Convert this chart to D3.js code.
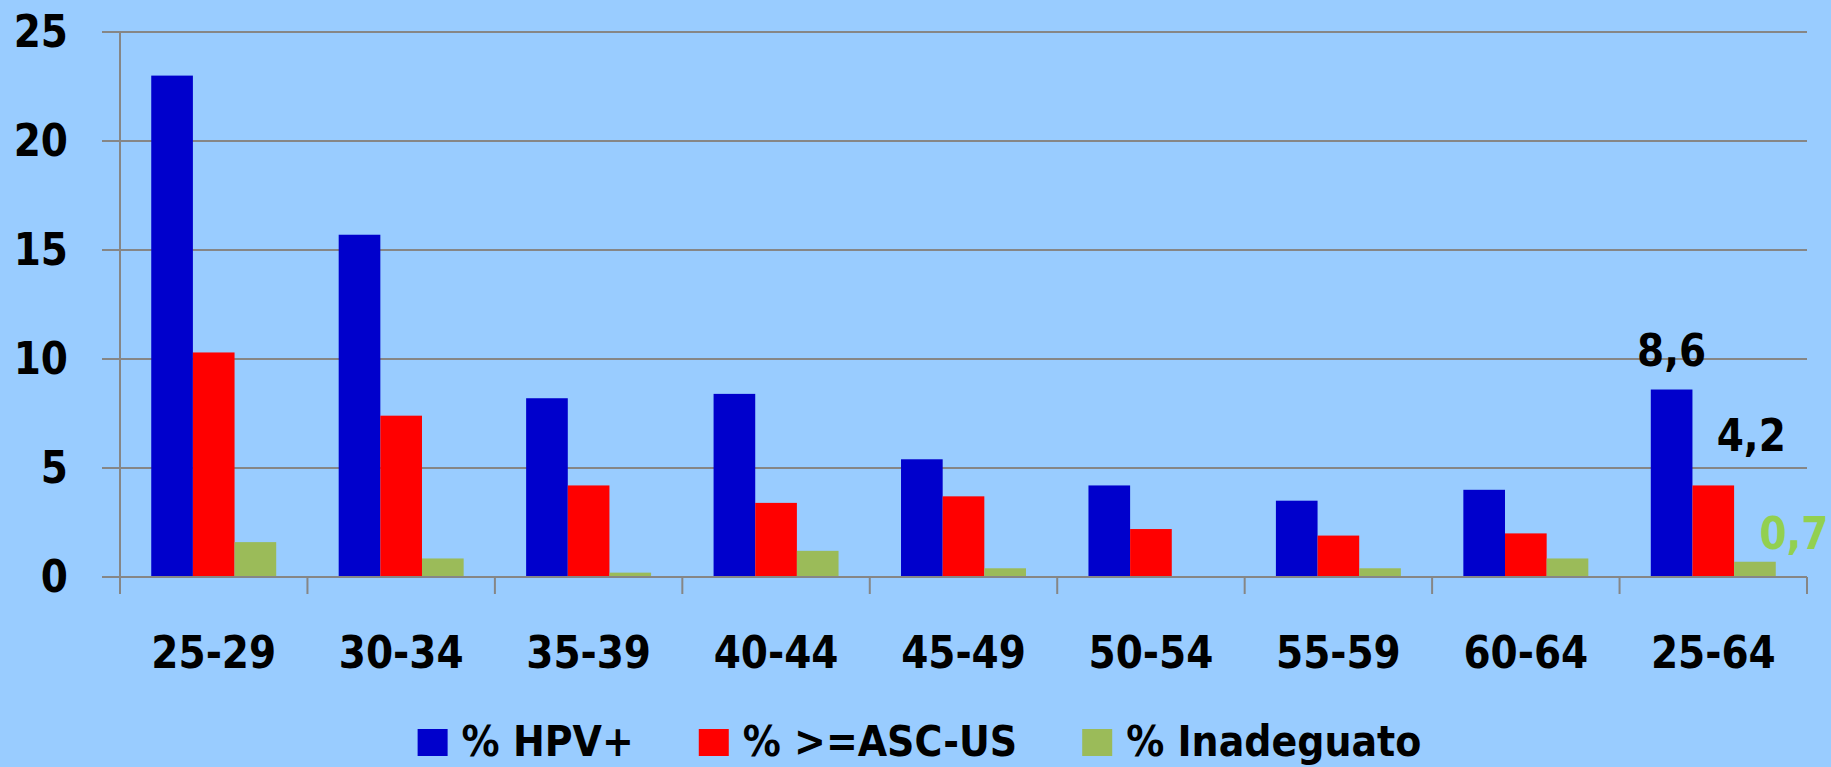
<!DOCTYPE html>
<html>
<head>
<meta charset="utf-8">
<script src="https://cdn.jsdelivr.net/npm/d3@7/dist/d3.min.js"></script>
<style>
  html, body { margin: 0; padding: 0; background: #99CCFF; }
  svg { display: block; }
  text { font-family: "DejaVu Sans", Verdana, sans-serif; font-weight: bold; }
</style>
</head>
<body>
<svg id="chart" width="1831" height="767"></svg>
<script>
// Age groups and the three percentages per group
const categories = ["25-29", "30-34", "35-39", "40-44", "45-49", "50-54", "55-59", "60-64", "25-64"];
const hpvPos   = [23.0, 15.7, 8.2, 8.4, 5.4, 4.2, 3.5, 4.0, 8.6];
const ascus    = [10.3, 7.4, 4.2, 3.4, 3.7, 2.2, 1.9, 2.0, 4.2];
const inadeg   = [1.6, 0.85, 0.2, 1.2, 0.4, 0.0, 0.4, 0.85, 0.7];
const seriesNames = ["% HPV+", "% >=ASC-US", "% Inadeguato"];
const yTicks = [0, 5, 10, 15, 20, 25];

const seriesValues = [hpvPos, ascus, inadeg];
const colors = ["#0000CC", "#FF0000", "#9BBB59"];

const W = 1831, H = 767;
const margin = { left: 120, right: 24, top: 32, bottom: 190 };
const svg = d3.select("#chart");
svg.append("rect").attr("width", W).attr("height", H).attr("fill", "#99CCFF");

const x0 = d3.scaleBand().domain(categories)
  .range([margin.left, W - margin.right]).paddingInner(0).paddingOuter(0);
// Excel-style gap: three bars plus a 1.5-bar gap per band
const x1 = d3.scaleBand().domain(d3.range(3))
  .range([0, x0.bandwidth()]).paddingInner(0).paddingOuter(0.75);
const y = d3.scaleLinear().domain([0, 25]).range([H - margin.bottom, margin.top]);

const textStretch = 1.13;
const grid = "#868686";

// Horizontal gridlines (extend left as tick marks)
svg.append("g").selectAll("line").data(yTicks.filter(d => d > 0)).join("line")
  .attr("x1", margin.left - 18).attr("x2", W - margin.right)
  .attr("y1", d => y(d)).attr("y2", d => y(d))
  .attr("stroke", grid).attr("stroke-width", 2);

// Bars
const groups = svg.append("g").selectAll("g").data(categories).join("g")
  .attr("transform", d => `translate(${x0(d)},0)`);
groups.selectAll("rect").data((d, i) => seriesValues.map((s, k) => ({ k, v: s[i] }))).join("rect")
  .attr("x", d => x1(d.k)).attr("width", x1.bandwidth())
  .attr("y", d => y(d.v)).attr("height", d => y(0) - y(d.v))
  .attr("fill", d => colors[d.k]);

// Axes lines
svg.append("line").attr("x1", margin.left - 18).attr("x2", W - margin.right)
  .attr("y1", y(0)).attr("y2", y(0)).attr("stroke", grid).attr("stroke-width", 2);
svg.append("line").attr("x1", margin.left).attr("x2", margin.left)
  .attr("y1", y(25)).attr("y2", y(0) + 17).attr("stroke", grid).attr("stroke-width", 2);
const boundaries = categories.map(c => x0(c)).concat([x0(categories[categories.length - 1]) + x0.bandwidth()]);
svg.append("g").selectAll("line").data(boundaries.slice(1)).join("line")
  .attr("x1", d => d).attr("x2", d => d)
  .attr("y1", y(0)).attr("y2", y(0) + 17)
  .attr("stroke", grid).attr("stroke-width", 2);

// Helper for slightly tall lettering
function label(g, x, yBase, str, size, anchor, fill) {
  const t = g.append("g").attr("transform", `translate(${x},${yBase}) scale(1,${textStretch})`)
    .append("text").attr("x", 0).attr("y", 0)
    .attr("text-anchor", anchor).attr("font-size", size).attr("fill", fill || "#000").text(str);
  return t;
}

// Y tick labels
const yl = svg.append("g");
yTicks.forEach(v => label(yl, 68, y(v) + 15, String(v), 39, "end"));

// X category labels
const xl = svg.append("g");
categories.forEach(c => label(xl, x0(c) + x0.bandwidth() / 2, 668, c, 39, "middle"));

// Value labels on the overall (25-64) group
const last = categories.length - 1;
const lastX = x0(categories[last]);
const fmt = v => d3.format(".1f")(v).replace(".", ",");
const vl = svg.append("g");
const labelOffsets = [{ dx: 0, dy: -24 }, { dx: 38, dy: -34 }, { dx: 39, dy: -13 }];
const labelColors = ["#000", "#000", "#92D050"];
seriesValues.forEach((s, k) => {
  const cx = lastX + x1(k) + x1.bandwidth() / 2 + labelOffsets[k].dx;
  label(vl, cx, y(s[last]) + labelOffsets[k].dy, fmt(s[last]), 39, "middle", labelColors[k]);
});

// Legend
const lg = svg.append("g");
let cx = 0;
seriesNames.forEach((n, k) => {
  const g = lg.append("g");
  g.append("rect").attr("x", cx).attr("y", 729).attr("width", 30).attr("height", 27).attr("fill", colors[k]);
  const t = label(g, cx + 44, 756, n, 38, "start");
  const w = t.node().getComputedTextLength();
  cx += 44 + w + 65;
});
const total = cx - 65;
lg.attr("transform", `translate(${(W - total) / 2 + 4},0)`);
</script>
</body>
</html>
